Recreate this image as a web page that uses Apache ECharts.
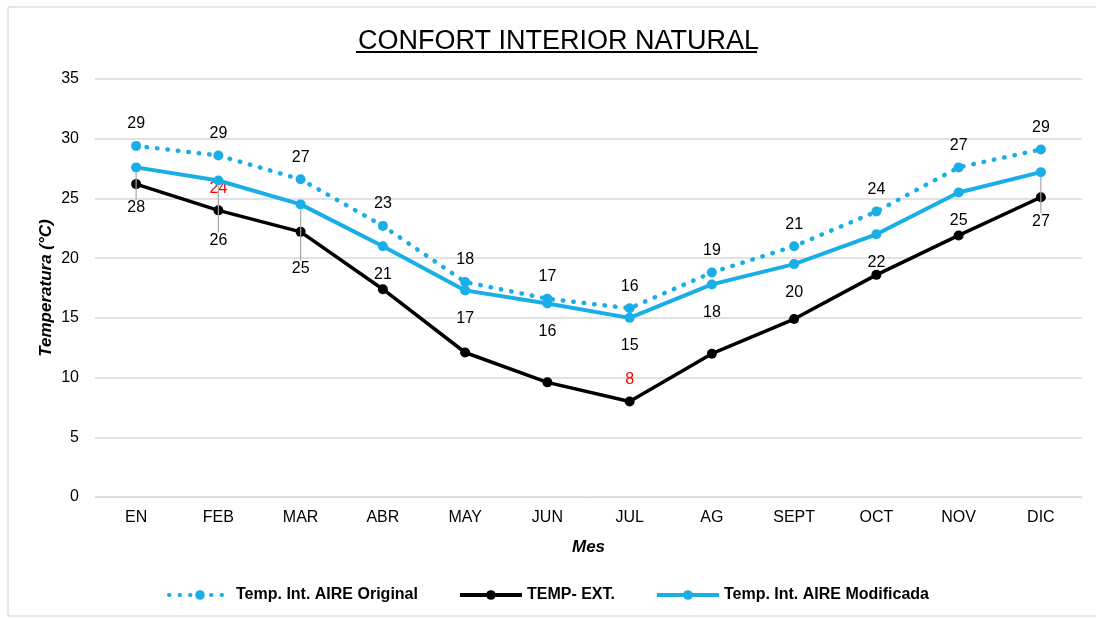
<!DOCTYPE html>
<html>
<head>
<meta charset="utf-8">
<title>CONFORT INTERIOR NATURAL</title>
<script src="https://cdn.jsdelivr.net/npm/echarts@6/dist/echarts.min.js"></script>
<style>
html,body{margin:0;padding:0;background:#fff;}
#main{width:1096px;height:618px;}
</style>
</head>
<body>
<div id="main"></div>
<script>
// datos
var meses = ['EN', 'FEB', 'MAR', 'ABR', 'MAY', 'JUN', 'JUL', 'AG', 'SEPT', 'OCT', 'NOV', 'DIC'];
var yTicks = [0, 5, 10, 15, 20, 25, 30, 35];
var original = [29.4, 28.6, 26.6, 22.7, 18.0, 16.6, 15.8, 18.8, 21.0, 23.9, 27.6, 29.1];
var modificada = [27.6, 26.5, 24.5, 21.0, 17.3, 16.2, 15.0, 17.8, 19.5, 22.0, 25.5, 27.2];
var exterior = [26.2, 24.0, 22.2, 17.4, 12.1, 9.6, 8.0, 12.0, 14.9, 18.6, 21.9, 25.1];
// etiquetas tal como aparecen
var etqOriginal = ['29', '29', '27', '23', '18', '17', '16', '19', '21', '24', '27', '29'];
var etqModificada = ['28', '26', '25', '21', '17', '16', '15', '18', '20', '22', '25', '27'];
var etqExterior = ['', '24', '', '', '', '', '8', '', '', '', '', ''];

var azul = '#1aaee6';
var fuente = '"Liberation Sans", Arial, sans-serif';
var desplaza = {0: 12, 1: 32, 2: 36, 11: 21}; // etiquetas movidas con linea guia

(function() {
	var myChart = echarts.init(document.getElementById('main'));
	//solo las etiquetas movidas llevan linea guia
	var datosMod = modificada.map(function(v, i) {
		return {value: v, labelLine: {show: !!desplaza[i]}};
	});
	var option = {
		animation: false,
		textStyle: {fontFamily: fuente},
		title: {
			text: 'CONFORT INTERIOR NATURAL',
			left: 353,
			top: 23,
			textStyle: {
				fontFamily: fuente,
				fontSize: 27,
				fontWeight: 'normal',
				color: '#000'
			}
		},
		graphic: [{
			type: 'rect',
			shape: {x: 8, y: 7, width: 1100, height: 609},
			style: {fill: 'none', stroke: '#d0d0d0', lineWidth: 1}
		}, {
			type: 'line',
			shape: {x1: 356, y1: 52, x2: 757, y2: 52},
			style: {stroke: '#000', lineWidth: 2}
		}],
		legend: {
			bottom: 10,
			left: 'center',
			itemWidth: 62,
			itemHeight: 12,
			itemGap: 40,
			lineStyle: {width: 4},
			textStyle: {
				fontFamily: fuente,
				fontSize: 16,
				fontWeight: 'bold',
				color: '#000'
			},
			data: ['Temp. Int. AIRE Original', 'TEMP- EXT.', 'Temp. Int. AIRE Modificada']
		},
		grid: {
			left: 95,
			right: 14,
			top: 79,
			bottom: 121
		},
		xAxis: {
			type: 'category',
			data: meses,
			name: 'Mes',
			nameLocation: 'middle',
			nameGap: 42,
			nameTextStyle: {fontSize: 17, fontWeight: 'bold', fontStyle: 'italic', color: '#000'},
			axisLine: {lineStyle: {color: '#d9d9d9', width: 1}},
			axisTick: {show: false},
			axisLabel: {color: '#000', fontSize: 16, margin: 13}
		},
		yAxis: {
			type: 'value',
			min: yTicks[0],
			max: yTicks[yTicks.length - 1],
			interval: 5,
			name: 'Temperatura (°C)',
			nameLocation: 'middle',
			nameGap: 40,
			nameMoveOverlap: false,
			nameTextStyle: {fontSize: 17, fontWeight: 'bold', fontStyle: 'italic', color: '#000'},
			axisLine: {show: false},
			axisTick: {show: false},
			axisLabel: {color: '#000', fontSize: 16, margin: 16},
			splitLine: {lineStyle: {color: '#d9d9d9', width: 1.5}}
		},
		series: [{
			name: 'Temp. Int. AIRE Original',
			type: 'line',
			data: original,
			symbol: 'circle',
			symbolSize: 10,
			z: 3,
			lineStyle: {color: azul, width: 4.5, type: [0.5, 10], cap: 'round'},
			itemStyle: {color: azul},
			label: {
				show: true,
				position: 'top',
				distance: 9,
				color: '#000',
				fontSize: 16,
				formatter: function(p) { return etqOriginal[p.dataIndex]; }
			}
		}, {
			name: 'TEMP- EXT.',
			type: 'line',
			data: exterior,
			symbol: 'circle',
			symbolSize: 10,
			z: 2,
			lineStyle: {color: '#000', width: 3.5},
			itemStyle: {color: '#000'},
			label: {
				show: true,
				position: 'top',
				distance: 9,
				color: '#ff0000',
				fontSize: 16,
				formatter: function(p) { return etqExterior[p.dataIndex]; }
			}
		}, {
			name: 'Temp. Int. AIRE Modificada',
			type: 'line',
			data: datosMod,
			symbol: 'circle',
			symbolSize: 10,
			z: 4,
			lineStyle: {color: azul, width: 4},
			itemStyle: {color: azul},
			label: {
				show: true,
				position: 'bottom',
				distance: 15,
				color: '#000',
				fontSize: 16,
				formatter: function(p) { return etqModificada[p.dataIndex]; }
			},
			labelLine: {
				show: false,
				lineStyle: {color: '#a6a6a6', width: 1.2}
			},
			labelLayout: function(p) {
				var d = desplaza[p.dataIndex];
				if (d) {
					return {dy: d};
				}
			}
		}]
	};
	myChart.setOption(option);
	window.addEventListener('resize', function() {
		myChart.resize();
	});
})();
</script>
</body>
</html>
